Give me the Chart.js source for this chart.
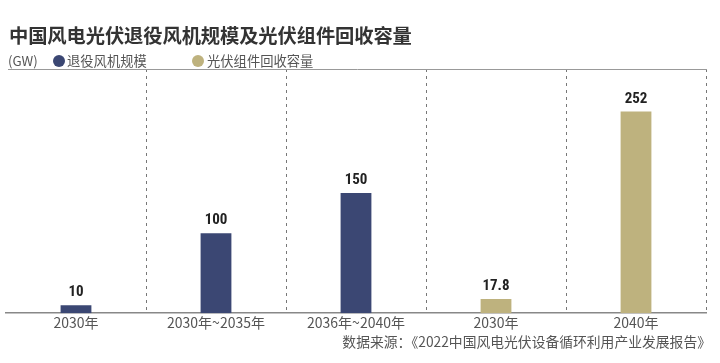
<!DOCTYPE html>
<html><head><meta charset="utf-8">
<script src="https://cdn.jsdelivr.net/npm/chart.js@4/dist/chart.umd.min.js"></script>
<style>
html,body{margin:0;padding:0;background:#fff;}
#wrap{position:relative;width:720px;height:363px;overflow:hidden;font-family:"Noto Sans CJK SC","Noto Sans",sans-serif;}
#title{position:absolute;left:9px;top:23px;font-size:19.3px;font-weight:700;color:#333;line-height:24px;white-space:nowrap;letter-spacing:-0.1px;}
#legend{position:absolute;left:8px;top:52px;font-size:13.3px;color:#555;line-height:18px;white-space:nowrap;}
#legend span{position:absolute;top:0;}
.dot{display:inline-block;width:12px;height:12px;border-radius:50%;position:absolute;top:3px;}
#source{position:absolute;right:9px;top:332px;font-size:13.8px;color:#555;line-height:18px;white-space:nowrap;}
canvas{position:absolute;left:0;top:0;}
</style></head>
<body><div id="wrap">
<canvas id="c" width="720" height="363"></canvas>
<div id="title">中国风电光伏退役风机规模及光伏组件回收容量</div>
<div id="legend">
<span style="left:0">(GW)</span>
<i class="dot" style="left:45px;background:#3b4773"></i><span style="left:59px">退役风机规模</span>
<i class="dot" style="left:184px;background:#beb27e"></i><span style="left:199px">光伏组件回收容量</span>
</div>
<div id="source">数据来源：《2022中国风电光伏设备循环利用产业发展报告》</div>
</div>
<script>
const categories = ["2030年", "2030年~2035年", "2036年~2040年", "2030年", "2040年"];
const windRetire = [10, 100, 150, null, null];
const pvRecycle = [null, null, null, 17.8, 252];
const seriesNames = ["退役风机规模", "光伏组件回收容量"];
const yMax = 305;

const valueLabels = {
  id: 'valueLabels',
  afterDatasetsDraw(chart) {
    const ctx = chart.ctx;
    ctx.save();
    ctx.font = 'bold 15px "Liberation Sans Narrow","Roboto Condensed","Roboto",sans-serif';
    ctx.fillStyle = '#222';
    ctx.textAlign = 'center';
    ctx.textBaseline = 'bottom';
    chart.data.datasets.forEach((ds, di) => {
      const meta = chart.getDatasetMeta(di);
      meta.data.forEach((el, i) => {
        const v = ds.data[i];
        if (v === null || v === undefined) return;
        ctx.fillText(String(v), el.x, el.y - 5);
      });
    });
    ctx.restore();
  }
};
const frameLines = {
  id: 'frameLines',
  beforeDatasetsDraw(chart) {
    const {ctx, chartArea} = chart;
    ctx.save();
    ctx.strokeStyle = '#999';
    ctx.lineWidth = 1;
    ctx.beginPath();
    ctx.moveTo(chartArea.left + 2, chartArea.top + 0.5);
    ctx.lineTo(chartArea.right + 1, chartArea.top + 0.5);
    ctx.stroke();
    ctx.restore();
  }
};

new Chart(document.getElementById('c'), {
  type: 'bar',
  data: {
    labels: categories,
    datasets: [
      {label: seriesNames[0], data: windRetire, backgroundColor: '#3b4773'},
      {label: seriesNames[1], data: pvRecycle, backgroundColor: '#beb27e'}
    ]
  },
  options: {
    responsive: false,
    animation: false,
    devicePixelRatio: 1,
    layout: {padding: {left: 6, right: 14, top: 69, bottom: 31}},
    datasets: {bar: {skipNull: true, categoryPercentage: 1, barPercentage: 0.22}},
    plugins: {legend: {display: false}, tooltip: {enabled: false}, title: {display: false}},
    scales: {
      x: {
        grid: {
          offset: true,
          drawTicks: false,
          lineWidth: 1,
          color: (c) => (c.index === 0 || c.index >= categories.length) ? 'rgba(0,0,0,0)' : '#777'
        },
        border: {display: true, color: '#888', width: 1.5, dash: [3, 4]},
        ticks: {color: '#555', padding: 1, font: {family: '"Noto Sans CJK SC","Noto Sans",sans-serif', size: 14}, maxRotation: 0, autoSkip: false}
      },
      y: {
        display: false,
        min: 0,
        max: yMax,
        grid: {display: false}
      }
    }
  },
  plugins: [valueLabels, frameLines]
});
</script>
</body></html>
